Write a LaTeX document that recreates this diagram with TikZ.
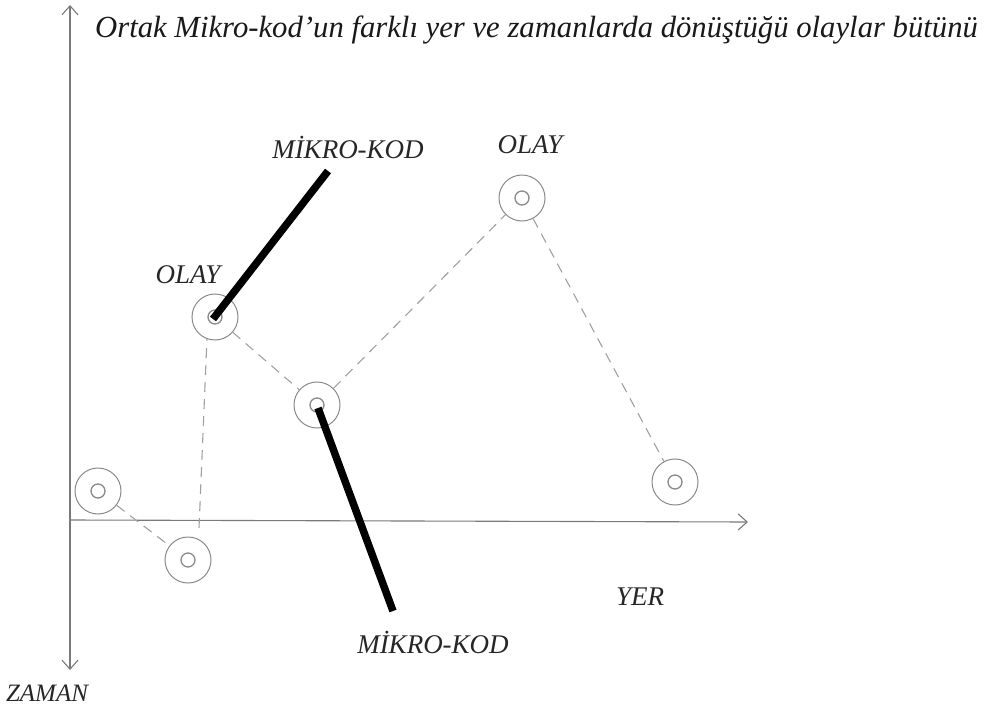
\documentclass[tikz,border=0pt]{standalone}
\usepackage{fontspec}
\setmainfont{Liberation Serif}
\usetikzlibrary{arrows.meta}
\definecolor{axisgray}{HTML}{7A7A7A}
\definecolor{ringgray}{HTML}{8A8A8A}
\definecolor{dashgray}{HTML}{A0A0A0}
\tikzset{
  evt/.style={circle, draw=ringgray, line width=1bp, minimum size=46bp, inner sep=0pt,
    path picture={\draw[ringgray, line width=1.3bp] (path picture bounding box.center) circle (7bp);}},
  axis/.style={draw=axisgray, line width=1.1bp},
  link/.style={draw=dashgray, line width=1.1bp, dash pattern=on 10bp off 7bp},
  codeline/.style={draw=black, line width=7.5bp},
  lbl/.style={font=\fontsize{27bp}{31bp}\selectfont\itshape, text=black!85, inner sep=0pt},
  ttl/.style={font=\fontsize{30.7bp}{35bp}\selectfont\itshape, text=black!90, inner sep=0pt},
  barb/.tip={Straight Barb[length=9bp,width=16bp,line width=1.1bp]}
}
\begin{document}
\begin{tikzpicture}[x=1bp,y=-1bp]
\path[use as bounding box, fill=white] (0,0) rectangle (991,715);
% axes
\coordinate (ytop) at (70,5);
\coordinate (ybot) at (70,670);
\coordinate (xl) at (70,520);
\coordinate (xr) at (748,522);
\draw[axis, barb-barb] (ytop) -- (ybot);
\draw[axis, -barb] (xl) -- (xr);
% events
\node[evt] (c1) at (98,491) {};
\node[evt] (c2) at (188,560) {};
\node[evt] (c3) at (215,317) {};
\node[evt] (c4) at (317,405) {};
\node[evt] (c5) at (522,198) {};
\node[evt] (c6) at (675,482) {};
\coordinate (v1) at (199,528);
% dashed links
\draw[link] (c1) -- (c2);
\draw[link] (v1) -- (c3.250);
\draw[link] (c3) -- (c4);
\draw[link] (c4) -- (c5);
\draw[link] (c5) -- (c6);
% micro-code lines
\coordinate (m1) at (328,171);
\coordinate (m2) at (393,611);
\draw[codeline] (c3.center) ++(-2,2) -- (m1);
\draw[codeline] (c4.center) ++(1,3) -- (m2);
% labels
\node[lbl] (tmk) at (348,147) {MİKRO-KOD};
\node[lbl] (tol1) at (188,275) {OLAY};
\node[lbl] (tol2) at (530,145) {OLAY};
\node[lbl] (bmk) at (433,642) {MİKRO-KOD};
\node[lbl] (yer) at (640,597) {YER};
\node[lbl, font=\fontsize{25bp}{29bp}\selectfont\itshape] (zam) at (47,693) {ZAMAN};
\node[ttl, anchor=west] (title) at (95,30) {Ortak Mikro-kod'un farklı yer ve zamanlarda dönüştüğü olaylar bütünü};
\end{tikzpicture}
\end{document}
